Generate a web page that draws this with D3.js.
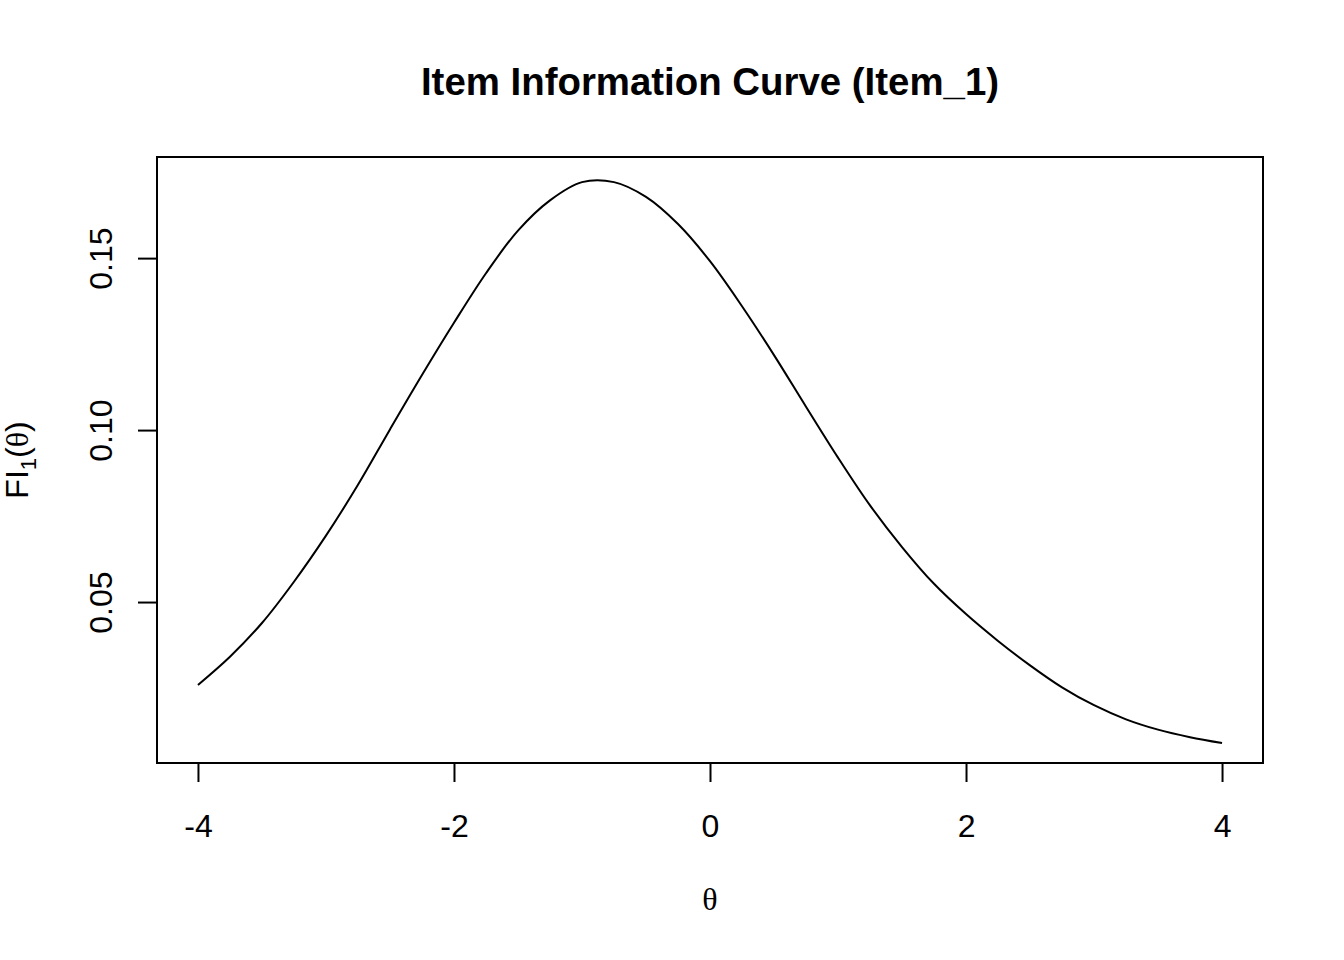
<!DOCTYPE html>
<html>
<head>
<meta charset="utf-8">
<script src="https://cdn.jsdelivr.net/npm/d3@7"></script>
<style>
  html, body { margin: 0; padding: 0; background: #fff; }
  svg { display: block; }
</style>
</head>
<body>
<script>
// ---- data ----
const thetaValues = [-4, -3.75, -3.5, -3.25, -3, -2.75, -2.5, -2.25, -2, -1.75, -1.5, -1.25, -1, -0.75, -0.5, -0.25,
  0, 0.25, 0.5, 0.75, 1, 1.25, 1.5, 1.75, 2, 2.25, 2.5, 2.75, 3, 3.25, 3.5, 3.75, 4];
const infoValues = [0.0259, 0.0341, 0.0439, 0.0559, 0.0693, 0.0841, 0.1002, 0.1160, 0.1312, 0.1456, 0.1580, 0.1668, 0.1721, 0.1721, 0.1678, 0.1599,
  0.1491, 0.1360, 0.1218, 0.1068, 0.0920, 0.0781, 0.0660, 0.0553, 0.0465, 0.0387, 0.0316, 0.0252, 0.0200, 0.0159, 0.0129, 0.0107, 0.0090];
const xTicks = [-4, -2, 0, 2, 4];
const yTicks = [0.05, 0.10, 0.15];
const titleText = "Item Information Curve (Item_1)";

// ---- layout ----
const W = 1344, H = 960;
const plotLeft = 157, plotRight = 1263, plotTop = 157, plotBottom = 763;

const svg = d3.select("body").append("svg")
  .attr("width", W).attr("height", H)
  .style("font-family", "'Liberation Sans', Arial, Helvetica, sans-serif");

svg.append("rect").attr("width", W).attr("height", H).attr("fill", "#fff");

const x = d3.scaleLinear().domain([-4.32, 4.32]).range([plotLeft, plotRight]);
const y = d3.scaleLinear().domain([0.0032, 0.1794]).range([plotBottom, plotTop]);

// curve
const data = thetaValues.map((t, i) => ({ t, v: infoValues[i] }));
svg.append("path")
  .datum(data)
  .attr("fill", "none")
  .attr("stroke", "#000")
  .attr("stroke-width", 2)
  .attr("d", d3.line().x(d => x(d.t)).y(d => y(d.v)).curve(d3.curveCatmullRom.alpha(0.5)));

// x axis
const xAxis = svg.append("g")
  .attr("transform", `translate(0,${plotBottom})`)
  .call(d3.axisBottom(x).tickValues(xTicks).tickSize(19).tickPadding(32).tickFormat(d3.format("d")));
xAxis.select(".domain").remove();
xAxis.append("line").attr("x1", x(xTicks[0])).attr("x2", x(xTicks[xTicks.length - 1]))
  .attr("stroke", "#000").attr("stroke-width", 2);
xAxis.selectAll(".tick line").attr("stroke", "#000").attr("stroke-width", 2);
xAxis.selectAll(".tick text")
  .attr("fill", "#000")
  .style("font-size", "32px")
  .style("font-family", "'Liberation Sans', Arial, Helvetica, sans-serif")
  .text(d => d < 0 ? "-" + Math.abs(d) : String(d));

// y axis
const yAxis = svg.append("g")
  .attr("transform", `translate(${plotLeft},0)`)
  .call(d3.axisLeft(y).tickValues(yTicks).tickSize(19).tickFormat(d3.format(".2f")));
yAxis.select(".domain").remove();
yAxis.selectAll(".tick line").attr("stroke", "#000").attr("stroke-width", 2);
yAxis.selectAll(".tick text")
  .attr("fill", "#000")
  .attr("x", null).attr("dy", null)
  .attr("text-anchor", "middle")
  .attr("transform", "translate(-45,0) rotate(-90)")
  .style("font-size", "32px")
  .style("font-family", "'Liberation Sans', Arial, Helvetica, sans-serif");

// box
svg.append("rect")
  .attr("x", plotLeft).attr("y", plotTop)
  .attr("width", plotRight - plotLeft).attr("height", plotBottom - plotTop)
  .attr("fill", "none").attr("stroke", "#000").attr("stroke-width", 2);

// title
svg.append("text")
  .attr("x", (plotLeft + plotRight) / 2).attr("y", 95)
  .attr("text-anchor", "middle")
  .style("font-size", "38.4px").style("font-weight", "bold")
  .attr("fill", "#000")
  .text(titleText);

// x label
svg.append("text")
  .attr("x", (plotLeft + plotRight) / 2).attr("y", 910)
  .attr("text-anchor", "middle")
  .style("font-size", "32px")
  .style("font-family", "'Liberation Serif', 'DejaVu Serif', serif")
  .attr("fill", "#000")
  .text("θ");

// y label FI_1(θ)
const yl = svg.append("text")
  .attr("transform", `translate(28,${(plotTop + plotBottom) / 2}) rotate(-90)`)
  .attr("text-anchor", "middle")
  .style("font-size", "32px")
  .attr("fill", "#000");
yl.append("tspan").text("FI");
yl.append("tspan").attr("dy", 8).style("font-size", "22px").text("1");
yl.append("tspan").attr("dy", -8).text("(");
yl.append("tspan").style("font-family", "'Liberation Serif', 'DejaVu Serif', serif").text("θ");
yl.append("tspan").text(")");
</script>
</body>
</html>
